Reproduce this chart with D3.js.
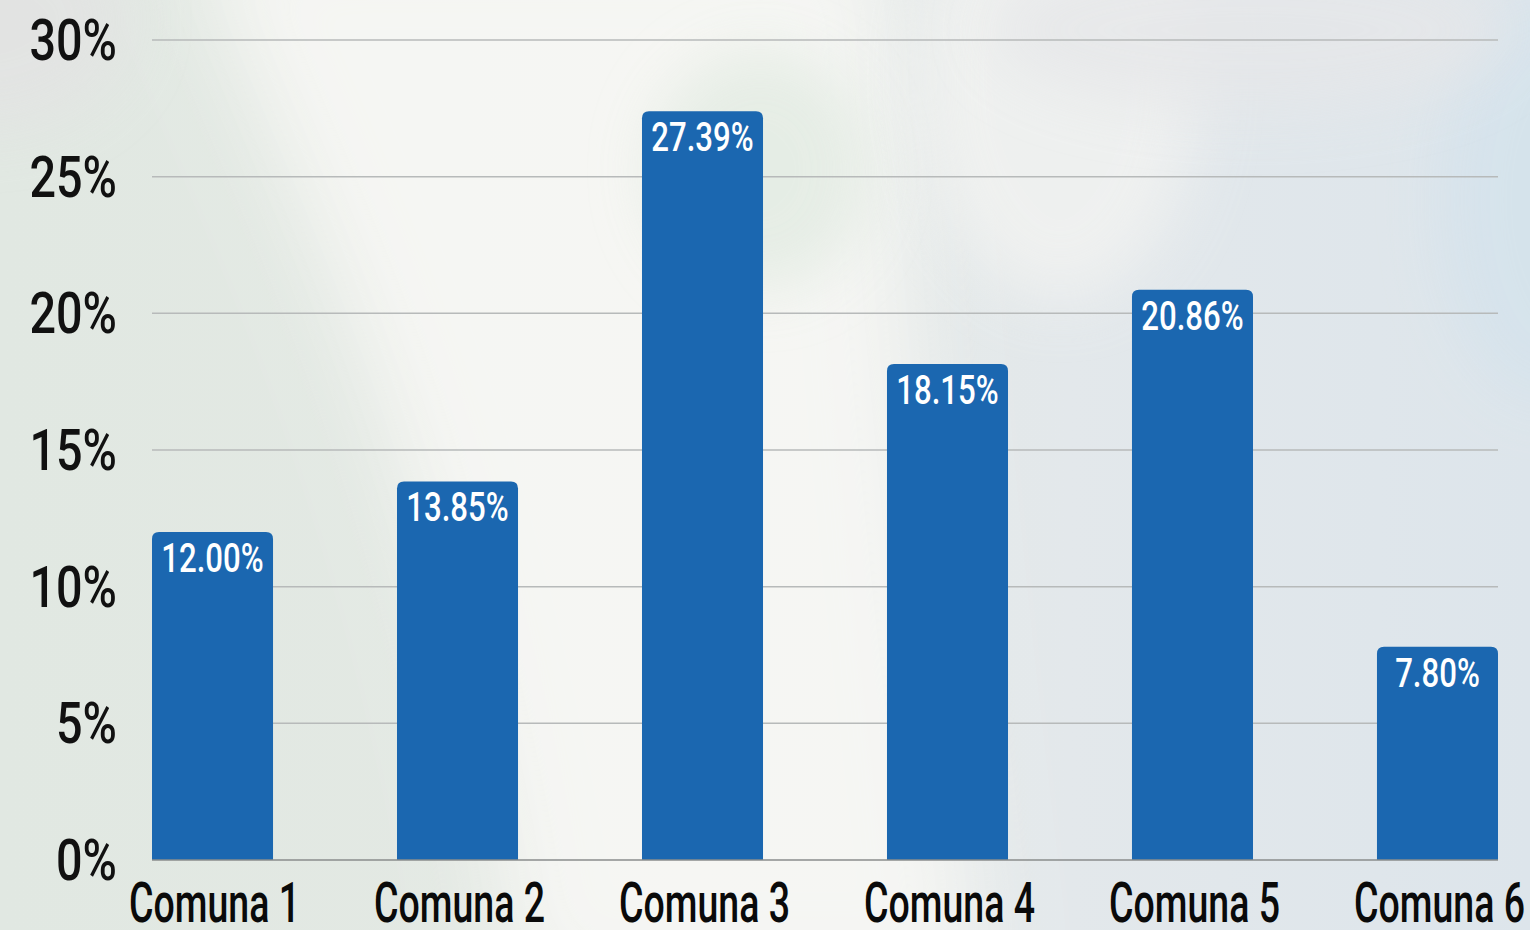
<!DOCTYPE html>
<html><head><meta charset="utf-8">
<script src="https://cdn.jsdelivr.net/npm/d3@7"></script>
<style>html,body{margin:0;padding:0;overflow:hidden;background:#e4e9e5}</style>
</head><body>
<svg id="c" width="1530" height="930"></svg>
<script>
const categories = ["Comuna 1","Comuna 2","Comuna 3","Comuna 4","Comuna 5","Comuna 6"];
const values = [12.00, 13.85, 27.39, 18.15, 20.86, 7.80];
const valueLabels = ["12.00%","13.85%","27.39%","18.15%","20.86%","7.80%"];
const yTicks = [0,5,10,15,20,25,30];
const yTickLabels = ["0%","5%","10%","15%","20%","25%","30%"];

const W=1530,H=930;
const svg=d3.select("#c");
const defs=svg.append("defs");
const lg=defs.append("linearGradient").attr("id","bg").attr("x1","0").attr("x2","1").attr("y1","0").attr("y2","0");
lg.append("stop").attr("offset","0").attr("stop-color","#e1e8e2");
lg.append("stop").attr("offset","0.45").attr("stop-color","#e4e9e4");
lg.append("stop").attr("offset","0.7").attr("stop-color","#e3e8eb");
lg.append("stop").attr("offset","1").attr("stop-color","#dde5eb");
const f=defs.append("filter").attr("id","blur").attr("x","-50%").attr("y","-50%").attr("width","200%").attr("height","200%");
f.append("feGaussianBlur").attr("stdDeviation",45);
const f2=defs.append("filter").attr("id","blur2").attr("x","-50%").attr("y","-50%").attr("width","200%").attr("height","200%");
f2.append("feGaussianBlur").attr("stdDeviation",30);

svg.append("rect").attr("width",W).attr("height",H).attr("fill","url(#bg)");
// soft background sheen (diagonal white swoosh)
svg.append("path").attr("d","M190,-80 C260,150 430,380 520,1000 L980,1000 C930,600 900,300 880,-80 Z")
  .attr("fill","#f7f7f4").attr("opacity",0.95).attr("filter","url(#blur)");
svg.append("ellipse").attr("cx",760).attr("cy",170).attr("rx",110).attr("ry",120).attr("fill","#e2ebe2").attr("opacity",0.8).attr("filter","url(#blur2)");
svg.append("ellipse").attr("cx",1060).attr("cy",80).attr("rx",140).attr("ry",220).attr("fill","#f4f4f2").attr("opacity",0.7).attr("filter","url(#blur2)");
svg.append("ellipse").attr("cx",-20).attr("cy",20).attr("rx",150).attr("ry",110).attr("fill","#e3e3e3").attr("opacity",0.8).attr("filter","url(#blur2)");
svg.append("ellipse").attr("cx",1550).attr("cy",200).attr("rx",110).attr("ry",200).attr("fill","#d5e3ec").attr("opacity",0.9).attr("filter","url(#blur2)");
svg.append("ellipse").attr("cx",1250).attr("cy",30).attr("rx",260).attr("ry",80).attr("fill","#e6e7e9").attr("opacity",0.8).attr("filter","url(#blur2)");

const x=d3.scaleBand().domain(categories).range([152,1498]).paddingInner(0.506).paddingOuter(0);
const y=d3.scaleLinear().domain([0,30]).range([860,40]);

const font="Roboto, 'Liberation Sans', sans-serif";

// gridlines
svg.append("g").selectAll("line").data(yTicks.filter(d=>d>0)).join("line")
  .attr("x1",152).attr("x2",1498).attr("y1",d=>y(d)).attr("y2",d=>y(d))
  .attr("stroke","#b7baba").attr("stroke-width",1.5);

// y tick labels
svg.append("g").selectAll("text").data(yTicks).join("text")
  .attr("transform",d=>`translate(117,${y(d)+20}) scale(0.82,1)`)
  .attr("text-anchor","end").attr("font-family",font).attr("font-weight",500).attr("font-size",57).attr("fill","#111")
  .text((d,i)=>yTickLabels[i]);

// bars with rounded tops
const r=7;
svg.append("g").selectAll("path").data(values).join("path")
  .attr("d",(d,i)=>{
    const x0=x(categories[i]),w=x.bandwidth(),y0=y(d),yb=y(0);
    return `M${x0},${yb}L${x0},${y0+r}Q${x0},${y0} ${x0+r},${y0}L${x0+w-r},${y0}Q${x0+w},${y0} ${x0+w},${y0+r}L${x0+w},${yb}Z`;
  }).attr("fill","#1b67b0");

// baseline
svg.append("line").attr("x1",152).attr("x2",1498).attr("y1",y(0)).attr("y2",y(0)).attr("stroke","#8a8d8d").attr("stroke-width",1.5);

// value labels
svg.append("g").selectAll("text").data(values).join("text")
  .attr("transform",(d,i)=>`translate(${x(categories[i])+x.bandwidth()/2},${y(d)+40}) scale(0.76,1)`)
  .attr("text-anchor","middle").attr("font-family",font).attr("font-weight",500).attr("font-size",41).attr("fill","#fff")
  .text((d,i)=>valueLabels[i]);

// category labels
svg.append("g").selectAll("text").data(categories).join("text")
  .attr("transform",d=>`translate(${x(d)+x.bandwidth()/2+2},922) scale(0.67,1)`)
  .attr("text-anchor","middle").attr("font-family",font).attr("font-weight",500).attr("font-size",56).attr("fill","#0a0a0a")
  .text(d=>d);
</script>
</body></html>
